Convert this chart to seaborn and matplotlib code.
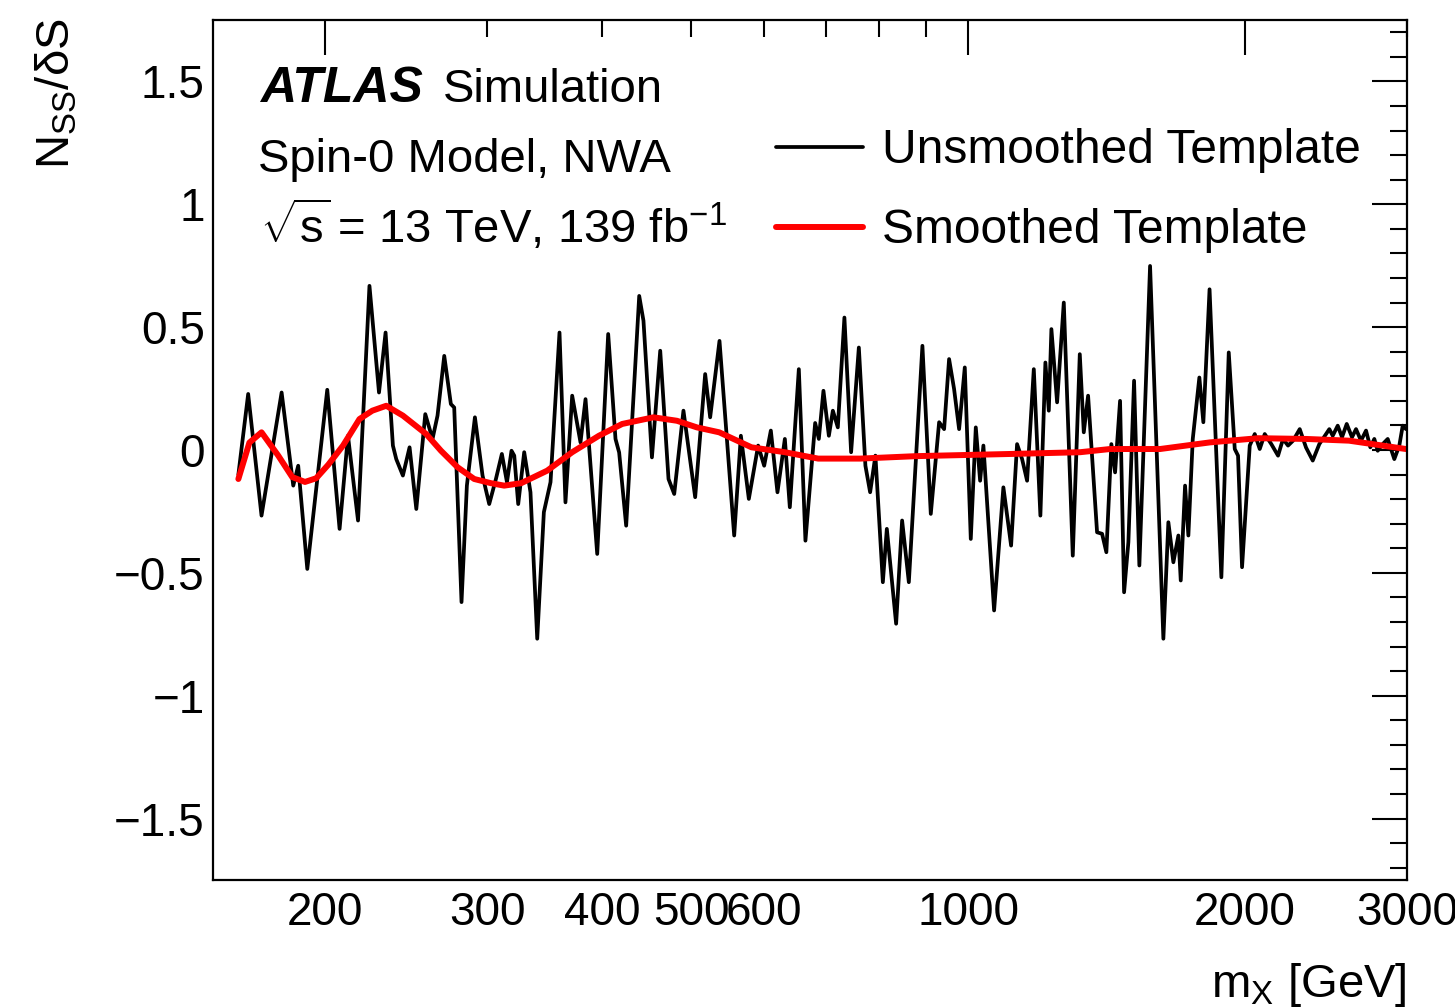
import matplotlib
matplotlib.use("Agg")
import matplotlib.pyplot as plt
import seaborn as sns
import pandas as pd
from matplotlib.ticker import MultipleLocator

# ---------------- data ----------------
mass_unsmoothed = [
    160.9, 164.9, 170.5, 179.3, 184.6, 186.9, 191.2, 201.0, 207.3, 211.7,
    217.1, 223.4, 228.8, 232.6, 236.9, 238.9, 242.9, 247.0, 251.2, 256.9,
    261.6, 264.9, 269.4, 273.9, 276.2, 281.3, 285.1, 290.9, 296.5, 301.5,
    306.6, 311.2, 315.2, 318.8, 321.0, 324.2, 329.1, 334.3, 340.0, 345.7,
    351.5, 359.5, 364.9, 371.1, 378.9, 383.7, 395.1, 406.1, 413.6, 417.4,
    424.8, 438.9, 443.6, 453.1, 462.6, 472.3, 479.1, 490.3, 504.9, 517.7,
    524.2, 536.6, 556.7, 566.1, 577.5, 591.1, 600.1, 610.2, 620.4, 632.0,
    639.9, 654.5, 665.4, 681.8, 688.1, 696.1, 705.6, 712.7, 721.6, 733.6,
    746.0, 760.6, 773.2, 782.4, 792.8, 807.7, 815.8, 835.0, 847.6, 862.0,
    891.8, 910.7, 929.9, 941.6, 953.4, 965.4, 977.6, 991.6, 1006.6, 1019.3,
    1030.4, 1038.9, 1067.1, 1092.2, 1113.5, 1130.3, 1144.6, 1159.0, 1178.6, 1198.2,
    1213.3, 1223.7, 1231.7, 1249.4, 1270.5, 1299.4, 1322.4, 1335.7, 1350.2, 1380.9,
    1398.3, 1413.4, 1431.2, 1444.6, 1462.7, 1477.5, 1493.5, 1514.9, 1535.1, 1576.8,
    1630.2, 1650.7, 1671.5, 1692.6, 1702.7, 1721.2, 1735.5, 1754.7, 1783.9, 1801.8,
    1830.0, 1884.9, 1920.1, 1949.2, 1965.3, 1985.1, 2023.7, 2049.2, 2075.0, 2101.1,
    2136.1, 2172.3, 2199.6, 2227.3, 2255.4, 2293.5, 2330.0, 2369.4, 2408.8, 2469.9,
    2491.0, 2522.3, 2549.6, 2579.8, 2614.3, 2640.6, 2673.8, 2707.5, 2736.8, 2764.3,
    2787.9, 2823.0, 2858.6, 2906.2, 2942.8, 2968.0, 2992.6,
]
nss_unsmoothed = [
    -0.10, 0.228, -0.267, 0.234, -0.145, -0.064, -0.484, 0.245, -0.321, 0.058,
    -0.287, 0.668, 0.234, 0.478, 0.018, -0.037, -0.104, 0.011, -0.24, 0.146,
    0.045, 0.14, 0.383, 0.187, 0.173, -0.619, -0.145, 0.133, -0.104, -0.22,
    -0.118, -0.016, -0.131, -0.003, -0.023, -0.22, -0.009, -0.172, -0.768, -0.253,
    -0.131, 0.478, -0.213, 0.221, 0.031, 0.207, -0.423, 0.472, 0.045, -0.01,
    -0.308, 0.627, 0.526, -0.03, 0.404, -0.118, -0.179, 0.16, -0.192, 0.309,
    0.133, 0.444, -0.348, 0.058, -0.199, 0.018, -0.064, 0.079, -0.172, 0.045,
    -0.233, 0.329, -0.369, 0.11, 0.045, 0.241, 0.058, 0.16, 0.092, 0.539,
    -0.009, 0.417, -0.064, -0.172, -0.023, -0.538, -0.321, -0.707, -0.287, -0.538,
    0.424, -0.26, 0.113, 0.085, 0.37, 0.248, 0.085, 0.336, -0.362, 0.092,
    -0.125, 0.018, -0.653, -0.152, -0.389, 0.024, -0.037, -0.125, 0.329, -0.267,
    0.356, 0.16, 0.492, 0.194, 0.6, -0.43, 0.39, 0.072, 0.221, -0.335,
    -0.341, -0.416, 0.024, -0.091, 0.2, -0.579, -0.375, 0.282, -0.47, 0.749,
    -0.768, -0.294, -0.457, -0.348, -0.531, -0.145, -0.348, 0.045, 0.295, 0.113,
    0.654, -0.518, 0.397, 0.004, -0.023, -0.477, 0.018, 0.065, 0.004, 0.065,
    0.024, -0.023, 0.045, 0.018, 0.038, 0.085, 0.01, -0.043, 0.024, 0.085,
    0.058, 0.099, 0.052, 0.106, 0.052, 0.085, 0.038, 0.079, 0.011, 0.045,
    -0.003, 0.024, 0.045, -0.037, 0.018, 0.099, 0.085,
]
mass_smoothed = [
    160.9, 165.4, 170.5, 177.8, 184.1, 190.1, 195.5, 201.5, 209.1, 217.9,
    225.0, 233.0, 242.9, 257.5, 267.2, 278.5, 290.4, 302.8, 313.0, 326.6,
    348.6, 371.1, 396.8, 420.6, 454.9, 482.3, 507.1, 536.2, 581.3, 632.0,
    686.9, 763.0, 877.8, 1116.3, 1323.4, 1426.6, 1616.8, 1832.3, 2066.2, 2330.0,
    2594.7, 2992.6,
]
nss_smoothed = [
    -0.118, 0.03, 0.072, -0.023, -0.11, -0.13, -0.115, -0.06, 0.018, 0.126,
    0.16, 0.18, 0.14, 0.065, -0.003, -0.07, -0.118, -0.135, -0.145, -0.135,
    -0.084, -0.009, 0.058, 0.106, 0.133, 0.119, 0.092, 0.072, 0.011, -0.009,
    -0.035, -0.035, -0.025, -0.016, -0.009, 0.004, 0.004, 0.031, 0.048, 0.045,
    0.038, 0.004,
]
series_labels = ["Unsmoothed Template", "Smoothed Template"]

x_major_ticks = [200, 1000, 2000]
x_major_labels = ["200", "1000", "2000"]
x_minor_ticks = [300, 400, 500, 600, 700, 800, 900, 3000]
x_minor_labels = ["300", "400", "500", "600", "", "", "", "3000"]
y_ticks = [-1.5, -1, -0.5, 0, 0.5, 1, 1.5]

# ---------------- style ----------------
sns.set_theme(style="white")
plt.rcParams["font.family"] = ["Liberation Sans", "DejaVu Sans"]
plt.rcParams["mathtext.fontset"] = "custom"
plt.rcParams["mathtext.rm"] = "Liberation Sans"
plt.rcParams["mathtext.it"] = "Liberation Sans:italic"
plt.rcParams["mathtext.bf"] = "Liberation Sans:bold"
plt.rcParams["axes.unicode_minus"] = True
for key in ["text.color", "axes.labelcolor", "xtick.color", "ytick.color",
            "axes.edgecolor"]:
    plt.rcParams[key] = "black"

FS = 34
FS_TICK = 33
W, H = 1455, 1008
fig = plt.figure(figsize=(W / 100, H / 100), dpi=100)
ax = fig.add_axes([213 / W, 1 - 880 / H, (1407 - 213) / W, 860 / H])

df_u = pd.DataFrame({"mass": mass_unsmoothed, "nss": nss_unsmoothed})
df_s = pd.DataFrame({"mass": mass_smoothed, "nss": nss_smoothed})

sns.lineplot(data=df_u, x="mass", y="nss", ax=ax, color="black", lw=2.7,
             estimator=None, label=series_labels[0],
             solid_joinstyle="round", solid_capstyle="round")
sns.lineplot(data=df_s, x="mass", y="nss", ax=ax, color="#ff0000", lw=4.3,
             estimator=None, label=series_labels[1],
             solid_joinstyle="round")

ax.set_xscale("log")
ax.set_xlim(151, 3000)
ax.set_ylim(-1.75, 1.75)

ax.set_xticks(x_major_ticks, labels=x_major_labels)
ax.set_xticks(x_minor_ticks, labels=x_minor_labels, minor=True)
ax.set_yticks(y_ticks, labels=[f"{v:g}".replace("-", "\u2212") for v in y_ticks])
ax.yaxis.set_minor_locator(MultipleLocator(0.1))

ax.tick_params(which="major", direction="in", length=25, width=1.5,
               top=True, right=True, labelsize=FS_TICK, color="black",
               labelcolor="black")
ax.tick_params(which="minor", direction="in", length=12, width=1.5,
               top=True, right=True, labelsize=FS_TICK, color="black",
               labelcolor="black")
ax.tick_params(axis="x", which="both", pad=8)
ax.tick_params(axis="y", which="both", pad=6)
for s in ax.spines.values():
    s.set_color("black")
    s.set_linewidth(1.6)

ax.set_xlabel("")
ax.set_ylabel("")
fig.text(1407 / W, 1 - 985 / H, r"m$_{\mathrm{X}}$ [GeV]", fontsize=FS,
         ha="right", va="center")
fig.text(57 / W, 1 - 18 / H, r"N$_{\mathrm{SS}}$/δS", fontsize=FS,
         rotation=90, ha="center", va="top")

# annotations
ax.text(0.0394, 0.9047, "ATLAS", transform=ax.transAxes, fontsize=36,
        fontweight="bold", fontstyle="italic", ha="left", va="baseline")
ax.text(0.1926, 0.9047, "Simulation", transform=ax.transAxes, fontsize=FS,
        ha="left", va="baseline")
ax.text(0.0377, 0.8233, "Spin-0 Model, NWA", transform=ax.transAxes,
        fontsize=FS, ha="left", va="baseline")
ax.text(0.039, 0.7407, r"$\sqrt{\mathrm{s}}\:$= 13 TeV, 139 fb$^{\mathrm{-1}}$",
        transform=ax.transAxes, fontsize=FS, ha="left", va="baseline")

ax.legend(loc="center left", bbox_to_anchor=(0.4715, 0.8012), frameon=False,
          fontsize=34.5, handlelength=1.82, handletextpad=0.40, borderpad=0,
          borderaxespad=0, labelspacing=0.73)

fig.savefig("out.png", dpi=100)
